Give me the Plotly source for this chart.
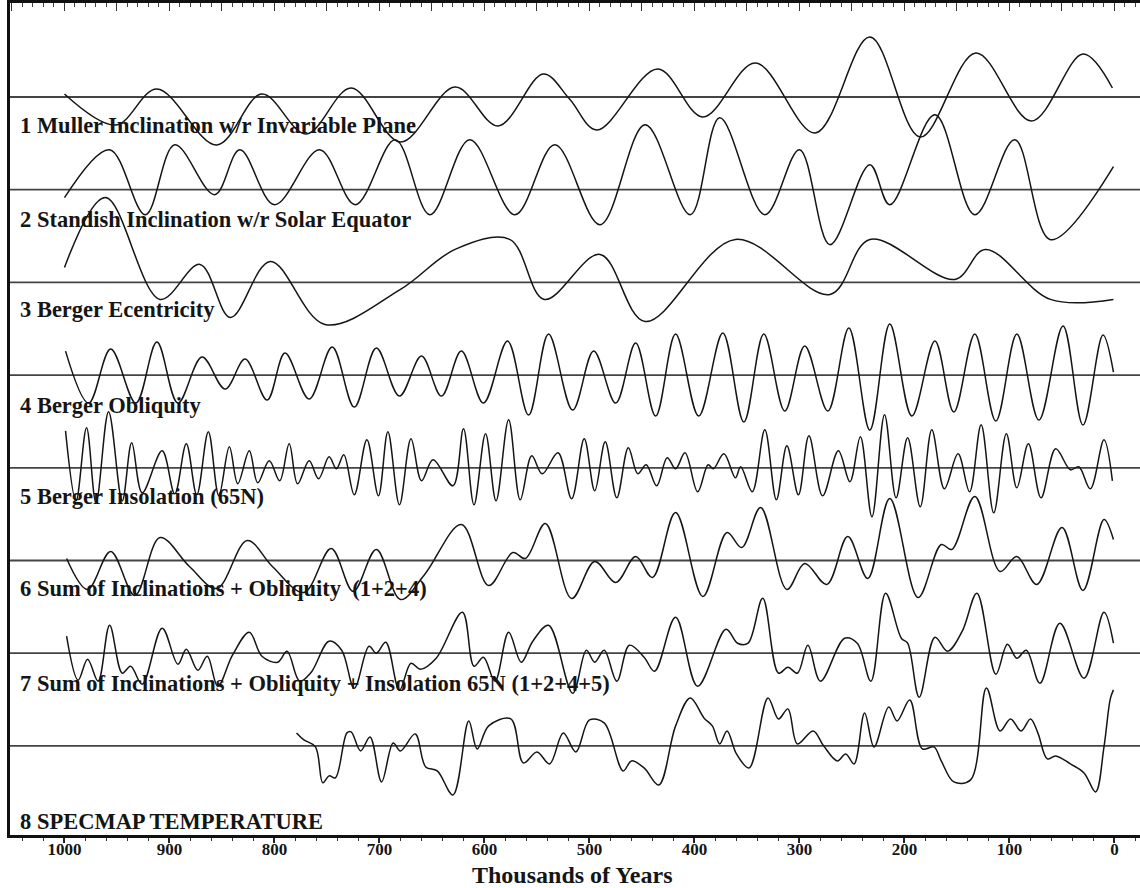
import plotly.graph_objects as go

# ---------------- data (time in thousands of years, amplitude in arbitrary units) -------------
labels = [
    "1 Muller Inclination w/r Invariable Plane",
    "2 Standish Inclination w/r Solar Equator",
    "3 Berger Ecentricity",
    "4 Berger Obliquity",
    "5 Berger Insolation (65N)",
    "6 Sum of Inclinations + Obliquity \u00a0(1+2+4)",
    "7 Sum of Inclinations + Obliquity + Insolation 65N (1+2+4+5)",
    "8 SPECMAP TEMPERATURE",
]

t1 = [1000, 951, 912, 855, 812, 770, 727, 680, 628, 587, 544, 519, 493, 435, 392, 342, 285, 233, 185, 132, 79, 30, 2]
v1 = [3, -28, 8, -48, 3, -37, 9, -45, 10, -29, 23, -2, -33, 28, -20, 34, -36, 60, -40, 44, -24, 43, 9]

t2 = [1000, 957, 923, 895, 857, 833, 800, 757, 723, 685, 652, 614, 571, 533, 490, 447, 404, 376, 333, 300, 271, 233, 214, 171, 133, 95, 61, 1]
v2 = [-8, 40, -25, 45, -5, 40, -15, 40, -15, 50, -25, 50, -25, 45, -35, 65, -25, 72, -25, 40, -55, 25, -15, 75, -25, 50, -50, 23]

t3 = [1000, 961, 909, 871, 842, 804, 752, 680, 628, 576, 543, 490, 447, 361, 271, 233, 152, 123, 61, 1]
v3 = [15, 85, -17, 18, -35, 21, -42, -7, 33, 43, -17, 28, -39, 43, -12, 43, 3, 33, -17, -17]

t4 = [999, 977, 956, 932, 912, 892, 869, 847, 828, 807, 790, 767, 745, 724, 703, 681, 660, 641, 622, 601,
      578, 558, 539, 516, 496, 475, 456, 437, 418, 396, 373, 353, 334, 314, 295, 273, 253, 233, 214, 193,
      171, 153, 133, 113, 93, 72, 49, 30, 11, 1]
v4 = [24, -28, 26, -28, 33, -28, 18, -14, 16, -25, 22, -24, 28, -32, 27, -21, 19, -21, 24, -28,
      34, -40, 41, -35, 24, -28, 32, -41, 41, -41, 42, -47, 41, -36, 29, -36, 47, -55, 51, -41,
      34, -37, 41, -46, 41, -45, 49, -50, 40, 3]

t5 = [999, 989, 979, 970, 958, 945, 936, 926, 907, 895, 884, 874, 863, 853, 843, 835, 824, 816, 805, 795,
      786, 778, 767, 758, 748, 741, 734, 724, 712, 701, 692, 681, 670, 660, 649, 630, 620, 610, 599, 589,
      577, 566, 555, 545, 530, 517, 505, 495, 485, 474, 463, 454, 446, 436, 426, 418, 409, 397, 387, 382,
      372, 361, 356, 345, 333, 322, 312, 301, 291, 278, 263, 252, 242, 231, 219, 208, 197, 185, 174, 162,
      149, 138, 127, 115, 103, 93, 82, 70, 56, 42, 34, 23, 10, 2]
v5 = [37, -33, 40, -35, 56, -33, 25, -25, 17, -26, 24, -27, 36, -28, 21, -16, 17, -15, 7, -13,
      24, -16, 7, -11, 11, -1, 13, -27, 28, -28, 36, -37, 29, -13, 8, -18, 39, -37, 34, -33,
      48, -32, 12, -6, 15, -31, 29, -23, 26, -30, 20, -6, 3, -18, 10, -1, 15, -24, 3, -1,
      14, -10, 1, -24, 38, -32, 22, -27, 32, -28, 17, -14, 31, -49, 53, -30, 30, -39, 38, -21,
      14, -24, 43, -45, 34, -20, 24, -30, 19, -2, 1, -21, 28, -13]

t6 = [998, 978, 956, 933, 909, 881, 855, 826, 802, 772, 746, 725, 703, 680, 657, 622, 596, 573, 561, 542,
      517, 495, 475, 456, 440, 418, 392, 369, 355, 337, 312, 295, 274, 254, 235, 214, 187, 165, 155, 133,
      109, 93, 74, 50, 30, 10, 1]
v6 = [2, -29, 9, -35, 23, -6, -28, 20, -6, -32, 12, -31, 11, -39, -14, 36, -25, 8, 2, 37,
      -38, -1, -22, 4, -17, 48, -36, 28, 13, 53, -29, -3, -24, 24, -18, 62, -37, 16, 11, 64,
      -11, 4, -24, 33, -30, 41, 21]

t7 = [998, 987, 978, 968, 957, 945, 937, 926, 907, 892, 884, 873, 864, 854, 840, 824, 812, 797, 788, 776,
      765, 748, 736, 724, 710, 703, 694, 681, 670, 661, 646, 621, 610, 601, 590, 577, 565, 554, 539, 516,
      503, 495, 486, 474, 462, 448, 438, 418, 397, 370, 359, 349, 335, 320, 311, 302, 292, 280, 257, 245,
      232, 218, 203, 197, 186, 171, 159, 145, 131, 113, 102, 93, 84, 71, 52, 29, 10, 1]
v7 = [17, -27, -6, -28, 28, -20, -13, -31, 25, -11, 4, -17, -3, -33, -2, 21, -3, -9, 2, -28,
      -19, 12, 3, -35, 7, 0, 11, -37, -10, -16, -5, 41, -13, -4, -28, 21, -9, 12, 28, -40,
      3, -9, 3, -28, 8, -4, -18, 36, -33, 24, 10, 10, 55, -20, -14, -20, 8, -28, 15, 10,
      -28, 60, 15, 10, -44, 16, 2, 22, 60, -21, 9, -5, 3, -30, 30, -25, 41, 10]

t8 = [779, 772, 761, 754, 748, 742, 731, 727, 718, 709, 698, 687, 680, 666, 656, 645, 630, 615, 607, 596,
      575, 563, 550, 538, 525, 513, 500, 486, 468, 460, 448, 434, 418, 404, 391, 383, 376, 369, 360, 348,
      330, 320, 311, 302, 287, 277, 264, 256, 248, 238, 229, 215, 207, 195, 183, 172, 165, 153, 137, 122,
      109, 99, 89, 80, 73, 64, 56, 42, 29, 18, 10, 4, 1]
v8 = [13, 6, -1, -37, -30, -32, 13, 14, -5, 9, -36, 3, -5, 12, -21, -25, -49, 25, -3, 20,
      27, -17, -6, -18, 13, -6, 26, 23, -25, -15, -22, -39, 20, 48, 28, 20, 2, 15, -8, -22,
      48, 27, 37, 2, 15, 0, -15, -8, -18, 33, -1, 39, 25, 46, -3, -1, -15, -36, -34, 58,
      15, 27, 15, 27, 13, -13, -10, -18, -27, -46, -1, 47, 56]

x_ticks = [1000, 900, 800, 700, 600, 500, 400, 300, 200, 100, 0]
x_title = "Thousands of Years"

series_t = [t1, t2, t3, t4, t5, t6, t7, t8]
series_v = [v1, v2, v3, v4, v5, v6, v7, v8]

# ---------------- layout constants (pixels) ----------------
W, H = 1140, 888
M_L, M_R, M_T, M_B = 10, 0, 3, 53
PLOT_H = H - M_T - M_B
FIRST_BASE = 94          # px from top of plot area to first baseline
BAND = 92.7              # px between baselines
LABEL_DROP = [28, 30, 27, 30, 29, 28, 30, 76]
X_LEFT, X_RIGHT = 1051.9, -24.3
FONT = "Liberation Serif"
INK = "#151515"

def base_y(k):
    return PLOT_H - (FIRST_BASE + BAND * k)

fig = go.Figure()
for k, (tt, vv) in enumerate(zip(series_t, series_v)):
    b = base_y(k)
    fig.add_trace(go.Scatter(
        x=tt, y=[b + v for v in vv], mode="lines",
        line=dict(color=INK, width=1.5, shape="spline", smoothing=1.0),
        showlegend=False, hoverinfo="skip"))

# invisible trace for the top axis
fig.add_trace(go.Scatter(x=[X_LEFT, X_RIGHT], y=[0, 0], xaxis="x2", mode="lines",
                         line=dict(width=0), showlegend=False, hoverinfo="skip"))

shapes = []
for k in range(8):
    b = base_y(k)
    shapes.append(dict(type="line", xref="paper", x0=0, x1=1, yref="y", y0=b, y1=b,
                       line=dict(color="#444444", width=1.8), layer="below"))

annotations = []
for k, lab in enumerate(labels):
    annotations.append(dict(
        text="<b>" + lab + "</b>", xref="paper", x=(18 - M_L) / (W - M_L - M_R), xanchor="left",
        yref="y", y=base_y(k) - LABEL_DROP[k], yanchor="middle", showarrow=False,
        font=dict(family=FONT, size=22.5, color=INK)))

annotations.append(dict(
    text="<b>" + x_title + "</b>", xref="paper", x=(572 - M_L) / (W - M_L - M_R), xanchor="center",
    yref="paper", y=-(H - M_T - PLOT_H) / PLOT_H, yanchor="bottom", yshift=-1, borderpad=0,
    showarrow=False, font=dict(family=FONT, size=24, color=INK)))

fig.update_layout(
    width=W, height=H,
    margin=dict(l=M_L, r=M_R, t=M_T, b=M_B, autoexpand=False),
    paper_bgcolor="white", plot_bgcolor="white",
    shapes=shapes, annotations=annotations,
    xaxis=dict(range=[X_LEFT, X_RIGHT], tickvals=x_ticks, ticktext=["<b>%d</b>" % v for v in x_ticks],
               ticks="outside", ticklen=5, tickwidth=1.5, tickcolor="#222", automargin=False,
               ticklabelstandoff=-8,
               minor=dict(dtick=20, ticklen=3, tickwidth=1, tickcolor="#333", ticks="outside"),
               showline=True, linewidth=3, linecolor="#111", showgrid=False, zeroline=False,
               tickfont=dict(family=FONT, size=17, color=INK)),
    xaxis2=dict(range=[X_LEFT, X_RIGHT], overlaying="x", side="top", anchor="y",
                tickmode="linear", tick0=0, dtick=50, ticks="inside", ticklen=8, tickwidth=1.2,
                tickcolor="#333", showticklabels=False, automargin=False,
                minor=dict(dtick=10, ticklen=4, tickwidth=1, tickcolor="#444", ticks="inside"),
                showline=True, linewidth=3, linecolor="#111", showgrid=False, zeroline=False),
    yaxis=dict(range=[0, PLOT_H], showticklabels=False, ticks="", showgrid=False, zeroline=False,
               showline=True, linewidth=3, linecolor="#111", fixedrange=True, automargin=False),
)

fig.write_html("out.html")
